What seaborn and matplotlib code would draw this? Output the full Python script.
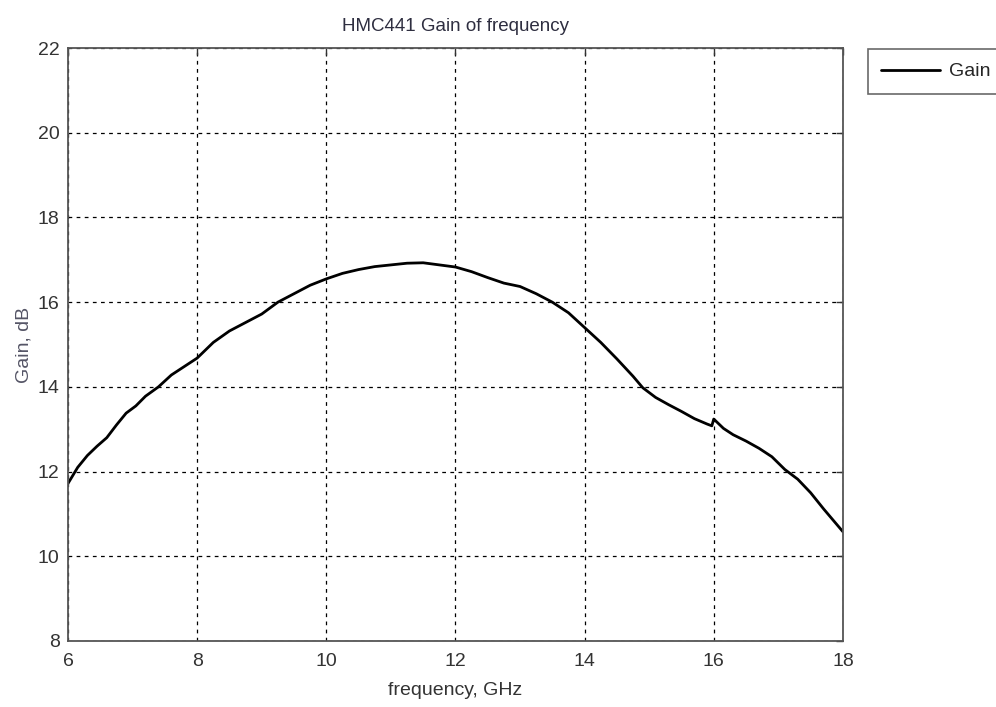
import pandas as pd
import seaborn as sns
import matplotlib.pyplot as plt

freq_ghz = [6.0, 6.15, 6.3, 6.45, 6.6, 6.75, 6.9, 7.05, 7.2, 7.4, 7.6, 7.8, 8.0,
            8.25, 8.5, 8.75, 9.0, 9.25, 9.5, 9.75, 10.0, 10.25, 10.5, 10.75,
            11.0, 11.25, 11.5, 11.75, 12.0, 12.25, 12.5, 12.75, 13.0, 13.25,
            13.5, 13.75, 14.0, 14.25, 14.5, 14.75, 14.9, 15.1, 15.3, 15.5,
            15.7, 15.9, 15.97, 16.0, 16.15, 16.3, 16.5, 16.7, 16.9, 17.1,
            17.3, 17.5, 17.7, 17.85, 18.0]
gain_db = [11.72, 12.1, 12.38, 12.6, 12.8, 13.1, 13.38, 13.55, 13.78, 14.0, 14.28,
           14.48, 14.68, 15.05, 15.32, 15.52, 15.72, 16.0, 16.2, 16.4, 16.55,
           16.68, 16.77, 16.84, 16.88, 16.92, 16.93, 16.88, 16.83, 16.72, 16.58,
           16.45, 16.37, 16.2, 16.0, 15.75, 15.4, 15.05, 14.66, 14.25, 13.98,
           13.75, 13.58, 13.42, 13.25, 13.12, 13.08, 13.24, 13.02, 12.87, 12.72,
           12.55, 12.35, 12.05, 11.82, 11.5, 11.12, 10.85, 10.58]

df = pd.DataFrame({"frequency": freq_ghz, "gain": gain_db})

sns.set_style("white")
plt.rcParams['font.family'] = ['Liberation Sans', 'DejaVu Sans']

fig = plt.figure(figsize=(9.96, 7.07), dpi=100)
ax = fig.add_axes([0.0683, 0.0934, 0.778, 0.8386])

sns.lineplot(data=df, x="frequency", y="gain", color="black", linewidth=2.0,
             label="Gain", ax=ax)

ax.set_xlim(6, 18)
ax.set_ylim(8, 22)
ax.set_xticks(range(6, 19, 2))
ax.set_yticks(range(8, 23, 2))
ax.grid(True, color="black", linestyle=(0, (3, 3.5)), linewidth=0.9)
ax.tick_params(direction="in", length=5, width=1, colors="#333333",
               labelsize=14, top=True, right=True)
ax.tick_params(axis="x", pad=9)
ax.tick_params(axis="y", pad=6)
for s in ax.spines.values():
    s.set_color("#555555")
    s.set_linewidth(1.3)

ax.set_title("HMC441 Gain of frequency", fontsize=13.5, color="#2e2e40", pad=12)
ax.set_xlabel("frequency, GHz", fontsize=14, color="#333333", labelpad=8)
ax.set_ylabel("Gain, dB", fontsize=14, color="#555566", labelpad=4)

leg = ax.legend(loc="upper left", bbox_to_anchor=(1.032, 0.998), borderaxespad=0,
                fontsize=14, frameon=True, fancybox=False, handlelength=3.0,
                borderpad=0.7, handletextpad=0.5)
leg.get_frame().set_edgecolor("#444444")
leg.get_frame().set_linewidth(1.2)

fig.savefig("out.png", dpi=100)
